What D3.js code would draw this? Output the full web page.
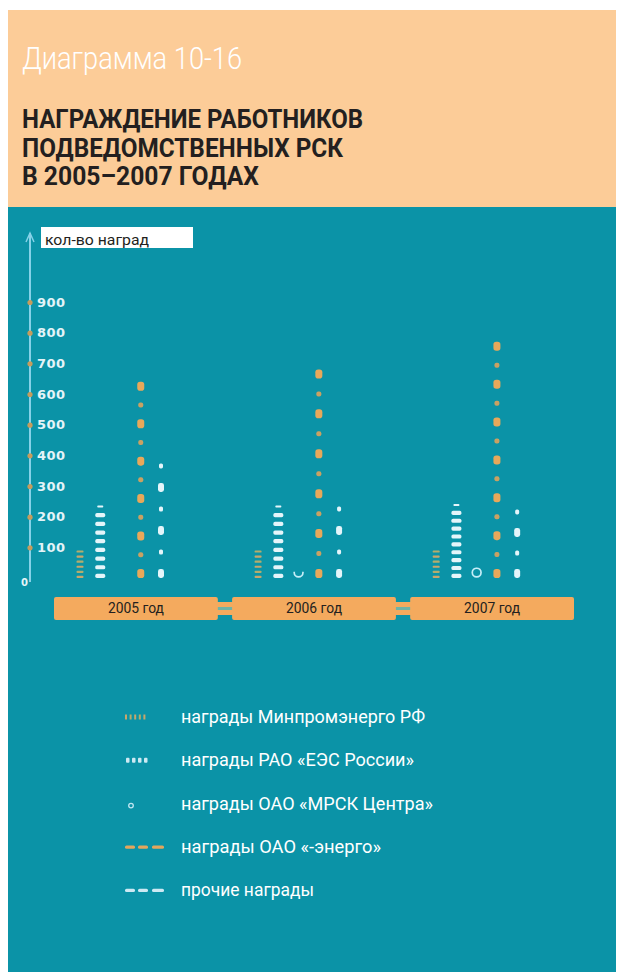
<!DOCTYPE html>
<html>
<head>
<meta charset="utf-8">
<script src="https://cdn.jsdelivr.net/npm/d3@7"></script>
<style>
  html, body { margin: 0; padding: 0; background: #ffffff; }
  svg { display: block; }
</style>
</head>
<body>
<div id="chart"></div>
<script>
// Awards given to employees of subordinate distribution companies, 2005–2007
const years = ["2005 год", "2006 год", "2007 год"];
const seriesNames = [
  "награды Минпромэнерго РФ",
  "награды РАО «ЕЭС России»",
  "награды ОАО «МРСК Центра»",
  "награды ОАО «-энерго»",
  "прочие награды"
];
const minpromenergo = [90, 90, 90];
const raoEes = [240, 240, 245];
const mrskCentra = [0, 20, 35];
const oaoEnergo = [640, 680, 770];
const prochie = [380, 240, 230];
const yTicks = [100, 200, 300, 400, 500, 600, 700, 800, 900];

const W = 626, H = 972;
const TEAL = "#0b93a7", PEACH = "#fccc98", BAND = "#f4aa5e", INK = "#231f20";

const svg = d3.select("#chart").append("svg")
  .attr("width", W).attr("height", H)
  .style("font-family", "Roboto, 'Liberation Sans', sans-serif");

// panels
svg.append("rect").attr("x", 8).attr("y", 10).attr("width", 608).attr("height", 197).attr("fill", PEACH);
svg.append("rect").attr("x", 8).attr("y", 207).attr("width", 608).attr("height", 765).attr("fill", TEAL);

// header
svg.append("text").attr("x", 22).attr("y", 69)
  .attr("font-size", 31).attr("font-weight", 300).attr("fill", "#ffffff")
  .attr("textLength", 220).attr("lengthAdjust", "spacingAndGlyphs")
  .text("Диаграмма 10-16");
const titleLines = [
  ["НАГРАЖДЕНИЕ РАБОТНИКОВ", 128, 341],
  ["ПОДВЕДОМСТВЕННЫХ РСК", 157, 321],
  ["В 2005–2007 ГОДАХ", 185, 237]
];
titleLines.forEach(([t, yb, len]) => {
  svg.append("text").attr("x", 22).attr("y", yb)
    .attr("font-size", 25).attr("font-weight", 700).attr("fill", INK)
    .attr("textLength", len).attr("lengthAdjust", "spacingAndGlyphs")
    .text(t);
});

// scales
const y = d3.scaleLinear().domain([0, 900]).range([578, 302]);
const x0 = d3.scaleBand().domain(years).range([54, 574]).paddingInner(0.08);
const x1 = d3.scalePoint().domain(seriesNames).range([26, 107]);

// y axis: line with arrow
const axisX = 30;
svg.append("line").attr("x1", axisX).attr("x2", axisX).attr("y1", 582).attr("y2", 233)
  .attr("stroke", "#86d2e8").attr("stroke-width", 2);
svg.append("path").attr("d", `M${axisX - 4},${242} L${axisX},${233} L${axisX + 4},${242}`)
  .attr("fill", "none").attr("stroke", "#86d2e8").attr("stroke-width", 1.5);

const axis = d3.axisRight(y).tickValues(yTicks).tickSize(0).tickPadding(7)
  .tickFormat(d3.format("d"));
const gAxis = svg.append("g").attr("transform", `translate(${axisX},0)`).call(axis);
gAxis.select(".domain").remove();
gAxis.selectAll(".tick text")
  .attr("fill", "#e4f4f8").attr("font-size", 13).attr("font-weight", 700)
  .attr("letter-spacing", 0.5)
  .attr("font-family", "'DejaVu Sans', sans-serif");
gAxis.selectAll(".tick").append("circle").attr("r", 2.6).attr("fill", "#c69c5c");
// zero label sits left of the axis foot
svg.append("text").attr("x", 21).attr("y", y(0) + 8)
  .attr("font-size", 10).attr("font-weight", 700).attr("fill", "#e4f4f8")
  .attr("font-family", "'DejaVu Sans', sans-serif").text("0");

// axis caption box
svg.append("rect").attr("x", 41).attr("y", 227).attr("width", 152).attr("height", 21).attr("fill", "#ffffff");
svg.append("text").attr("x", 45).attr("y", 245).attr("font-size", 15).attr("fill", INK)
  .attr("textLength", 104).attr("lengthAdjust", "spacingAndGlyphs").text("кол-во наград");

// year band along the bottom
const bandY = 597, bandH = 23;
svg.selectAll(".conn").data(years.slice(1)).join("g").each(function (d) {
  const g = d3.select(this);
  const xa = x0(d) - x0.step() + x0.bandwidth() - 2, xb = x0(d) + 2;
  g.append("rect").attr("x", xa).attr("y", bandY + 5).attr("width", xb - xa).attr("height", bandH - 10).attr("fill", BAND);
  g.append("rect").attr("x", xa).attr("y", bandY + bandH / 2 - 1.5).attr("width", xb - xa).attr("height", 3).attr("fill", "#6fb3a6");
});
svg.selectAll(".yearband").data(years).join("rect")
  .attr("x", d => x0(d)).attr("y", bandY).attr("width", x0.bandwidth()).attr("height", bandH)
  .attr("rx", 2).attr("fill", BAND);
svg.selectAll(".yearlabel").data(years).join("text")
  .attr("x", d => x0(d) + x0.bandwidth() / 2).attr("y", bandY + 16)
  .attr("text-anchor", "middle").attr("font-size", 14).attr("fill", INK)
  .attr("textLength", 56).attr("lengthAdjust", "spacingAndGlyphs")
  .text(d => d);

// stacked pictograph columns
const series = [
  { name: seriesNames[0], values: minpromenergo, kind: "ticks" },
  { name: seriesNames[1], values: raoEes, kind: "bricks" },
  { name: seriesNames[2], values: mrskCentra, kind: "ring" },
  { name: seriesNames[3], values: oaoEnergo, kind: "dotsOrange" },
  { name: seriesNames[4], values: prochie, kind: "dotsWhite" }
];

const kinds = {
  ticks:      { step: 4.6, size: i => [7, 2.2], fill: i => (i % 2 ? "#b3ad6c" : "#c9a66a") },
  bricks:     { step: 7.8, size: i => [10, 4.2], fill: i => "#e4f5fa" },
  dotsOrange: { step: 18.5, size: i => (i % 2 ? [5, 5] : [7, 9]), fill: i => (i % 2 ? "#c9a163" : "#e8a85a") },
  dotsWhite:  { step: 20, size: i => (i % 2 ? [4, 5] : [6, 9]), fill: i => "#e4f5fa" }
};

let clipId = 0;
series.forEach(s => {
  years.forEach((yr, j) => {
    const v = s.values[j];
    if (!v) return;
    const cx = x0(yr) + x1(s.name);
    const base = y(0), top = y(v), h = base - top;
    if (s.kind === "ring") {
      const id = "clip" + (clipId++);
      svg.append("clipPath").attr("id", id).append("rect")
        .attr("x", cx - 8).attr("y", top).attr("width", 16).attr("height", h + 4);
      svg.append("circle").attr("cx", cx).attr("cy", base - 5.5).attr("r", 4.4)
        .attr("fill", "none").attr("stroke", "#c6eef8").attr("stroke-width", 1.7)
        .attr("clip-path", `url(#${id})`);
      return;
    }
    const k = kinds[s.kind];
    const mh0 = k.size(0)[1];
    const n = Math.max(1, Math.floor((h - mh0) / k.step) + 1);
    const gap = n > 1 ? (h - mh0) / (n - 1) : 0;
    const marks = d3.range(n).map(i => {
      const [w, mh] = (i === n - 1 && s.kind === "bricks") ? [6, 2] : k.size(i);
      return { i, w, mh, yc: base - mh0 / 2 - i * gap };
    });
    svg.append("g").selectAll("rect").data(marks).join("rect")
      .attr("x", d => cx - d.w / 2).attr("y", d => d.yc - d.mh / 2)
      .attr("width", d => d.w).attr("height", d => d.mh)
      .attr("rx", d => Math.min(d.w, d.mh) / 2.5)
      .attr("fill", d => k.fill(d.i));
  });
});

// legend
const legendTop = 723, legendStep = 43.3;
const legendLens = [244, 233, 252, 200, 133];
const lg = svg.append("g");
seriesNames.forEach((name, i) => {
  const yb = legendTop + i * legendStep, yc = yb - 6;
  lg.append("text").attr("x", 181).attr("y", yb).attr("font-size", 19).attr("fill", "#ffffff")
    .attr("textLength", legendLens[i]).attr("lengthAdjust", "spacingAndGlyphs").text(name);
  const sym = lg.append("g");
  if (i === 0) {
    d3.range(5).forEach(k => sym.append("rect").attr("x", 125 + k * 4.6).attr("y", yc - 2.5)
      .attr("width", 2).attr("height", 5).attr("fill", k % 2 ? "#b3ad6c" : "#c9a66a"));
  } else if (i === 1) {
    d3.range(4).forEach(k => sym.append("rect").attr("x", 126 + k * 6).attr("y", yc - 2.5)
      .attr("width", 3.5).attr("height", 5).attr("rx", 1).attr("fill", "#cde9f3"));
  } else if (i === 2) {
    sym.append("circle").attr("cx", 131).attr("cy", yc + 2).attr("r", 2.3)
      .attr("fill", "none").attr("stroke", "#bfe6f2").attr("stroke-width", 1.3);
  } else {
    const c = i === 3 ? "#e3a65d" : "#cde9f3";
    [[125, 10], [138, 10], [152, 12]].forEach(([sx, sw]) => sym.append("rect")
      .attr("x", sx).attr("y", yc - 1.5).attr("width", sw).attr("height", 3.4).attr("rx", 1.5).attr("fill", c));
  }
});
</script>
</body>
</html>
